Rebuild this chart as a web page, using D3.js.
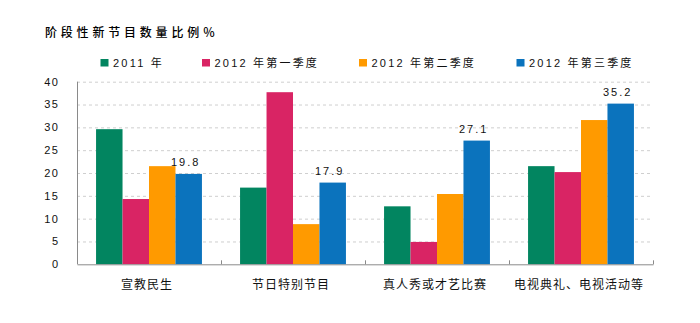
<!DOCTYPE html>
<html>
<head>
<meta charset="utf-8">
<script src="https://cdn.jsdelivr.net/npm/d3@7"></script>
<style>
  html, body { margin: 0; padding: 0; background: #fff; }
  svg { display: block; }
  text { font-family: "Liberation Sans", "Noto Sans CJK SC", sans-serif; fill: #111; }
</style>
</head>
<body>
<svg id="chart" width="700" height="323"></svg>
<script>
// Program categories and the four reporting periods
const categories = ["宣教民生", "节日特别节目", "真人秀或才艺比赛", "电视典礼、电视活动等"];
const seriesNames = ["2011 年", "2012 年第一季度", "2012 年第二季度", "2012 年第三季度"];
const seriesColors = ["#028560", "#d92464", "#ff9a00", "#0b73bd"];

// Share of new programs (%) per category, one array per period
const values2011 = [29.6, 16.8, 12.7, 21.5];
const values2012Q1 = [14.3, 37.7, 4.9, 20.2];
const values2012Q2 = [21.5, 8.8, 15.4, 31.6];
const values2012Q3 = [19.8, 17.9, 27.1, 35.2];
const seriesValues = [values2011, values2012Q1, values2012Q2, values2012Q3];

// Only the latest period carries value labels
const labelledSeries = 3;

const yTicks = [0, 5, 10, 15, 20, 25, 30, 35, 40];
const title = "阶段性新节目数量比例％";

const svg = d3.select("#chart");
const margin = { left: 77, right: 47, top: 81.7, bottom: 58.7 };
const W = 700, H = 323;

const x0 = d3.scaleBand().domain(categories)
  .range([margin.left, W - margin.right]).paddingInner(0).paddingOuter(0);
const x1 = d3.scaleBand().domain(d3.range(seriesNames.length))
  .range([0, x0.bandwidth()]).paddingInner(0).paddingOuter(0.72);
const y = d3.scaleLinear().domain([0, 40]).range([H - margin.bottom, margin.top]);

// Title
svg.append("text")
  .attr("x", 45).attr("y", 37)
  .style("font-family", "'Noto Sans CJK SC', sans-serif")
  .style("font-size", "12px")
  .style("font-weight", "500")
  .style("letter-spacing", "3.8px")
  .style("fill", "#000")
  .text(title);

// Dashed horizontal gridlines
svg.append("g").selectAll("line")
  .data(yTicks.filter(d => d > 0))
  .join("line")
  .attr("x1", margin.left).attr("x2", W - margin.right)
  .attr("y1", d => y(d) + 0.5).attr("y2", d => y(d) + 0.5)
  .attr("stroke", "#cfcfcf").attr("stroke-dasharray", "3,3");

// Y tick labels
svg.append("g").selectAll("text")
  .data(yTicks)
  .join("text")
  .attr("x", 59.5).attr("y", d => y(d))
  .attr("dy", "0.35em")
  .attr("text-anchor", "end")
  .style("font-size", "11px")
  .style("letter-spacing", "1.5px")
  .text(d => d);

// Bars
const groups = svg.append("g").selectAll("g")
  .data(categories)
  .join("g")
  .attr("transform", d => `translate(${x0(d)},0)`);

groups.selectAll("rect")
  .data((c, ci) => seriesValues.map((vals, si) => ({ si, v: vals[ci] })))
  .join("rect")
  .attr("x", d => x1(d.si))
  .attr("width", x1.bandwidth())
  .attr("y", d => y(d.v))
  .attr("height", d => y(0) - y(d.v))
  .attr("fill", d => seriesColors[d.si]);

// Value labels above the labelled series
groups.append("text")
  .datum((c, ci) => seriesValues[labelledSeries][ci])
  .attr("x", x1(labelledSeries) + x1.bandwidth() / 2 - 3)
  .attr("y", d => y(d) - 8)
  .attr("text-anchor", "middle")
  .style("font-size", "11px")
  .style("letter-spacing", "2px")
  .text(d => d.toFixed(1));

// Axes lines
const axisColor = "#8a8a8a";
svg.append("line")
  .attr("x1", margin.left + 0.5).attr("x2", margin.left + 0.5)
  .attr("y1", y(40)).attr("y2", y(0))
  .attr("stroke", axisColor);

const xAxis = d3.axisBottom(x0).tickSize(0).tickFormat("");
svg.append("g")
  .attr("transform", `translate(0,${y(0)})`)
  .call(xAxis)
  .call(g => g.select(".domain").attr("stroke", axisColor))
  .call(g => g.selectAll(".tick").remove());

// Category separators pointing up from the axis
svg.append("g").selectAll("line")
  .data(categories)
  .join("line")
  .attr("x1", d => x0(d) + x0.bandwidth() + 0.5)
  .attr("x2", d => x0(d) + x0.bandwidth() + 0.5)
  .attr("y1", y(0)).attr("y2", y(0) - 4)
  .attr("stroke", axisColor);

// Category labels
svg.append("g").selectAll("text")
  .data(categories)
  .join("text")
  .attr("x", d => x0(d) + x0.bandwidth() / 2 - 2)
  .attr("y", 289)
  .attr("text-anchor", "middle")
  .style("font-family", "'Noto Sans CJK SC', sans-serif")
  .style("font-size", "12px")
  .style("letter-spacing", "1px")
  .text(d => d);

// Legend
const legendX = [100.5, 202, 359, 516.5];
const legend = svg.append("g").selectAll("g")
  .data(seriesNames)
  .join("g")
  .attr("transform", (d, i) => `translate(${legendX[i]},59)`);
legend.append("rect")
  .attr("width", 8).attr("height", 7.5)
  .attr("fill", (d, i) => seriesColors[i]);
legend.append("text")
  .attr("x", 12.5).attr("y", 7.5)
  .style("font-size", "11px")
  .style("letter-spacing", "2.2px")
  .text(d => d);
</script>
</body>
</html>
